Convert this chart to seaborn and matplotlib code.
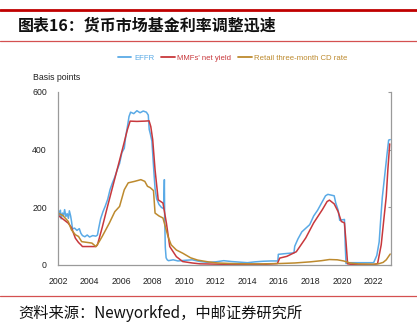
import matplotlib
matplotlib.use("Agg")
import matplotlib.pyplot as plt
from matplotlib.lines import Line2D
import seaborn as sns
import pandas as pd

# ---------------- data (basis points) ----------------
effr_t = [2002.00, 2002.05, 2002.10, 2002.15, 2002.20, 2002.28, 2002.35, 2002.42, 2002.50, 2002.58,
          2002.66, 2002.72, 2002.80, 2002.86, 2002.92, 2003.05, 2003.20, 2003.35, 2003.45, 2003.55,
          2003.70, 2003.85, 2004.00, 2004.20, 2004.40, 2004.50, 2004.58, 2004.70, 2004.85, 2005.00,
          2005.15, 2005.30, 2005.45, 2005.60, 2005.75, 2005.90, 2006.05, 2006.20, 2006.30, 2006.40,
          2006.50, 2006.60, 2006.80, 2007.00, 2007.20, 2007.40, 2007.60, 2007.72, 2007.78, 2007.85,
          2007.95, 2008.02, 2008.08, 2008.15, 2008.25, 2008.40, 2008.55, 2008.70, 2008.74, 2008.76,
          2008.80, 2008.85, 2008.92, 2009.00, 2009.30, 2009.60, 2010.00, 2010.50, 2011.00, 2011.50,
          2012.00, 2012.50, 2013.00, 2013.50, 2014.00, 2014.50, 2015.00, 2015.50, 2015.93, 2015.96,
          2016.50, 2016.95, 2017.00, 2017.20, 2017.45, 2017.95, 2018.20, 2018.45, 2018.70, 2018.95,
          2019.10, 2019.50, 2019.60, 2019.75, 2019.85, 2020.15, 2020.20, 2020.25, 2020.50, 2021.00,
          2021.50, 2022.00, 2022.20, 2022.35, 2022.45, 2022.55, 2022.70, 2022.85, 2022.95, 2023.05]
effr_v = [165, 185, 170, 190, 160, 180, 170, 192, 168, 178,
          162, 188, 170, 150, 125, 128, 120, 126, 110, 102,
          98, 104, 97, 102, 100, 104, 128, 160, 185, 205,
          228, 262, 285, 305, 330, 352, 390, 405, 450, 480,
          515, 530, 525, 535, 528, 534, 530, 520, 470, 455,
          430, 370, 320, 265, 230, 210, 200, 195, 296, 160,
          60, 25, 18, 15, 18, 14, 16, 18, 12, 9,
          11, 15, 12, 10, 8, 11, 13, 14, 14, 37,
          40, 42, 65, 90, 115, 140, 170, 190, 215, 240,
          245, 240, 215, 190, 155, 158, 70, 5, 8, 8,
          8, 8, 33, 80, 160, 235, 310, 385, 433, 435]

mmf_t = [2002.00, 2002.30, 2002.65, 2002.85, 2003.10, 2003.30, 2003.45, 2003.55, 2004.00, 2004.40,
         2004.50, 2004.80, 2005.10, 2005.60, 2006.10, 2006.40, 2006.57, 2007.00, 2007.50, 2007.77,
         2007.88, 2008.00, 2008.15, 2008.35, 2008.65, 2008.87, 2009.08, 2009.50, 2009.90, 2010.50,
         2011.00, 2012.00, 2013.00, 2014.00, 2015.00, 2015.90, 2016.05, 2016.50, 2017.10, 2017.70,
         2018.20, 2018.75, 2019.05, 2019.20, 2019.50, 2019.75, 2019.95, 2020.15, 2020.25, 2020.35,
         2020.60, 2021.00, 2022.00, 2022.25, 2022.48, 2022.65, 2022.80, 2022.90, 2023.02]
mmf_v = [172, 160, 145, 130, 93, 78, 70, 64, 64, 64,
         70, 130, 195, 300, 405, 470, 499, 498, 499, 500,
         480, 435, 330, 226, 215, 145, 64, 29, 12, 7,
         4, 3, 2, 2, 2, 5, 24, 30, 46, 94,
         146, 192, 220, 225, 212, 185, 151, 146, 80, 4,
         2, 1, 1, 5, 70, 160, 238, 330, 420]

cd_t = [2002.00, 2002.30, 2002.65, 2002.85, 2003.10, 2003.30, 2003.50, 2004.15, 2004.40, 2004.60,
        2004.80, 2005.25, 2005.60, 2005.90, 2006.20, 2006.45, 2006.85, 2007.25, 2007.50, 2007.67,
        2007.85, 2008.05, 2008.15, 2008.40, 2008.65, 2008.97, 2009.17, 2009.50, 2009.90, 2010.40,
        2010.85, 2011.50, 2012.10, 2013.00, 2014.00, 2015.00, 2016.00, 2017.00, 2018.00, 2018.70,
        2019.20, 2019.70, 2020.10, 2020.50, 2021.00, 2022.00, 2022.30, 2022.60, 2022.80, 2022.95,
        2023.05]
cd_v = [180, 172, 151, 122, 105, 99, 81, 76, 64, 80,
        99, 145, 185, 203, 261, 285, 290, 296, 290, 273,
        268, 258, 180, 170, 163, 99, 70, 52, 41, 25,
        17, 11, 7, 5, 4, 4, 5, 7, 11, 15,
        19, 18, 14, 7, 4, 3, 4, 9, 18, 30,
        38]

series_names = ["EFFR", "MMFs' net yield", "Retail three-month CD rate"]
colors = ["#5AAAE6", "#C8383C", "#BD8A2E"]
xticks = list(range(2002, 2023, 2))
yticks = [0, 200, 400, 600]

df = pd.concat([
    pd.DataFrame({"t": effr_t, "v": effr_v, "s": series_names[0]}),
    pd.DataFrame({"t": mmf_t, "v": mmf_v, "s": series_names[1]}),
    pd.DataFrame({"t": cd_t, "v": cd_v, "s": series_names[2]}),
])

# ---------------- figure ----------------
sns.set_style("white")
plt.rcParams["font.family"] = ["Noto Sans CJK SC", "DejaVu Sans"]

fig = plt.figure(figsize=(4.17, 3.34), dpi=100)
W, H = 417, 334
ax = fig.add_axes([58 / W, 1 - 265 / H, (391 - 58) / W, (265 - 92) / H])

palette = dict(zip(series_names, colors))
sns.lineplot(data=df, x="t", y="v", hue="s", palette=palette, ax=ax,
             linewidth=1.1, legend=False, sort=False, estimator=None)

ax.set_xlim(2002, 2023.1)
ax.set_ylim(0, 600)
ax.set_xticks(xticks)
ax.set_xticklabels([str(x) for x in xticks], fontsize=6.3, color="#222222",
                   family=["Liberation Sans", "DejaVu Sans"])
ax.set_yticks(yticks)
ax.set_yticklabels([str(y) for y in yticks], fontsize=6.3, color="#222222",
                   family=["Liberation Sans", "DejaVu Sans"])
ax.set_xlabel("")
ax.set_ylabel("")

for side in ["left", "bottom", "right"]:
    ax.spines[side].set_visible(True)
    ax.spines[side].set_color("#9a9a9a")
    ax.spines[side].set_linewidth(0.9)
ax.spines["top"].set_visible(False)
ax.tick_params(axis="x", direction="in", length=2.5, color="#9a9a9a", pad=9)
ax.tick_params(axis="y", direction="in", length=0, pad=8)
ax.tick_params(axis="y", which="both", right=True, length=2, color="#9a9a9a")
ax.tick_params(axis="y", labelright=False)

# legend with coloured text
handles = [Line2D([0], [0], color=c, lw=1.3) for c in colors]
fig.legend(handles, series_names, loc="center", bbox_to_anchor=(233 / W, 1 - 58 / H),
           ncol=3, frameon=False, handlelength=1.7, handletextpad=0.35,
           columnspacing=0.9, labelcolor=colors,
           prop={"family": ["Liberation Sans", "DejaVu Sans"], "size": 5.6})

fig.text(33 / W, 1 - 78 / H, "Basis points", fontsize=6.3, color="#222222",
         va="center", ha="left", family=["Liberation Sans", "DejaVu Sans"])

# title and decorative rules
fig.add_artist(Line2D([0, 1], [1 - 10 / H, 1 - 10 / H], color="#C00000", lw=2.0))
fig.text(18 / W, 1 - 26 / H, "图表16：货币市场基金利率调整迅速", fontsize=11.5,
         fontweight="bold", color="#111111", va="center", ha="left")
fig.add_artist(Line2D([0, 1], [1 - 41 / H, 1 - 41 / H], color="#D45050", lw=0.9))
fig.add_artist(Line2D([0, 1], [1 - 296 / H, 1 - 296 / H], color="#D45050", lw=0.9))
fig.text(18 / W, 1 - 313 / H, "资料来源：Newyorkfed，中邮证券研究所", fontsize=11,
         color="#111111", va="center", ha="left")

fig.savefig("out.png", dpi=100)
